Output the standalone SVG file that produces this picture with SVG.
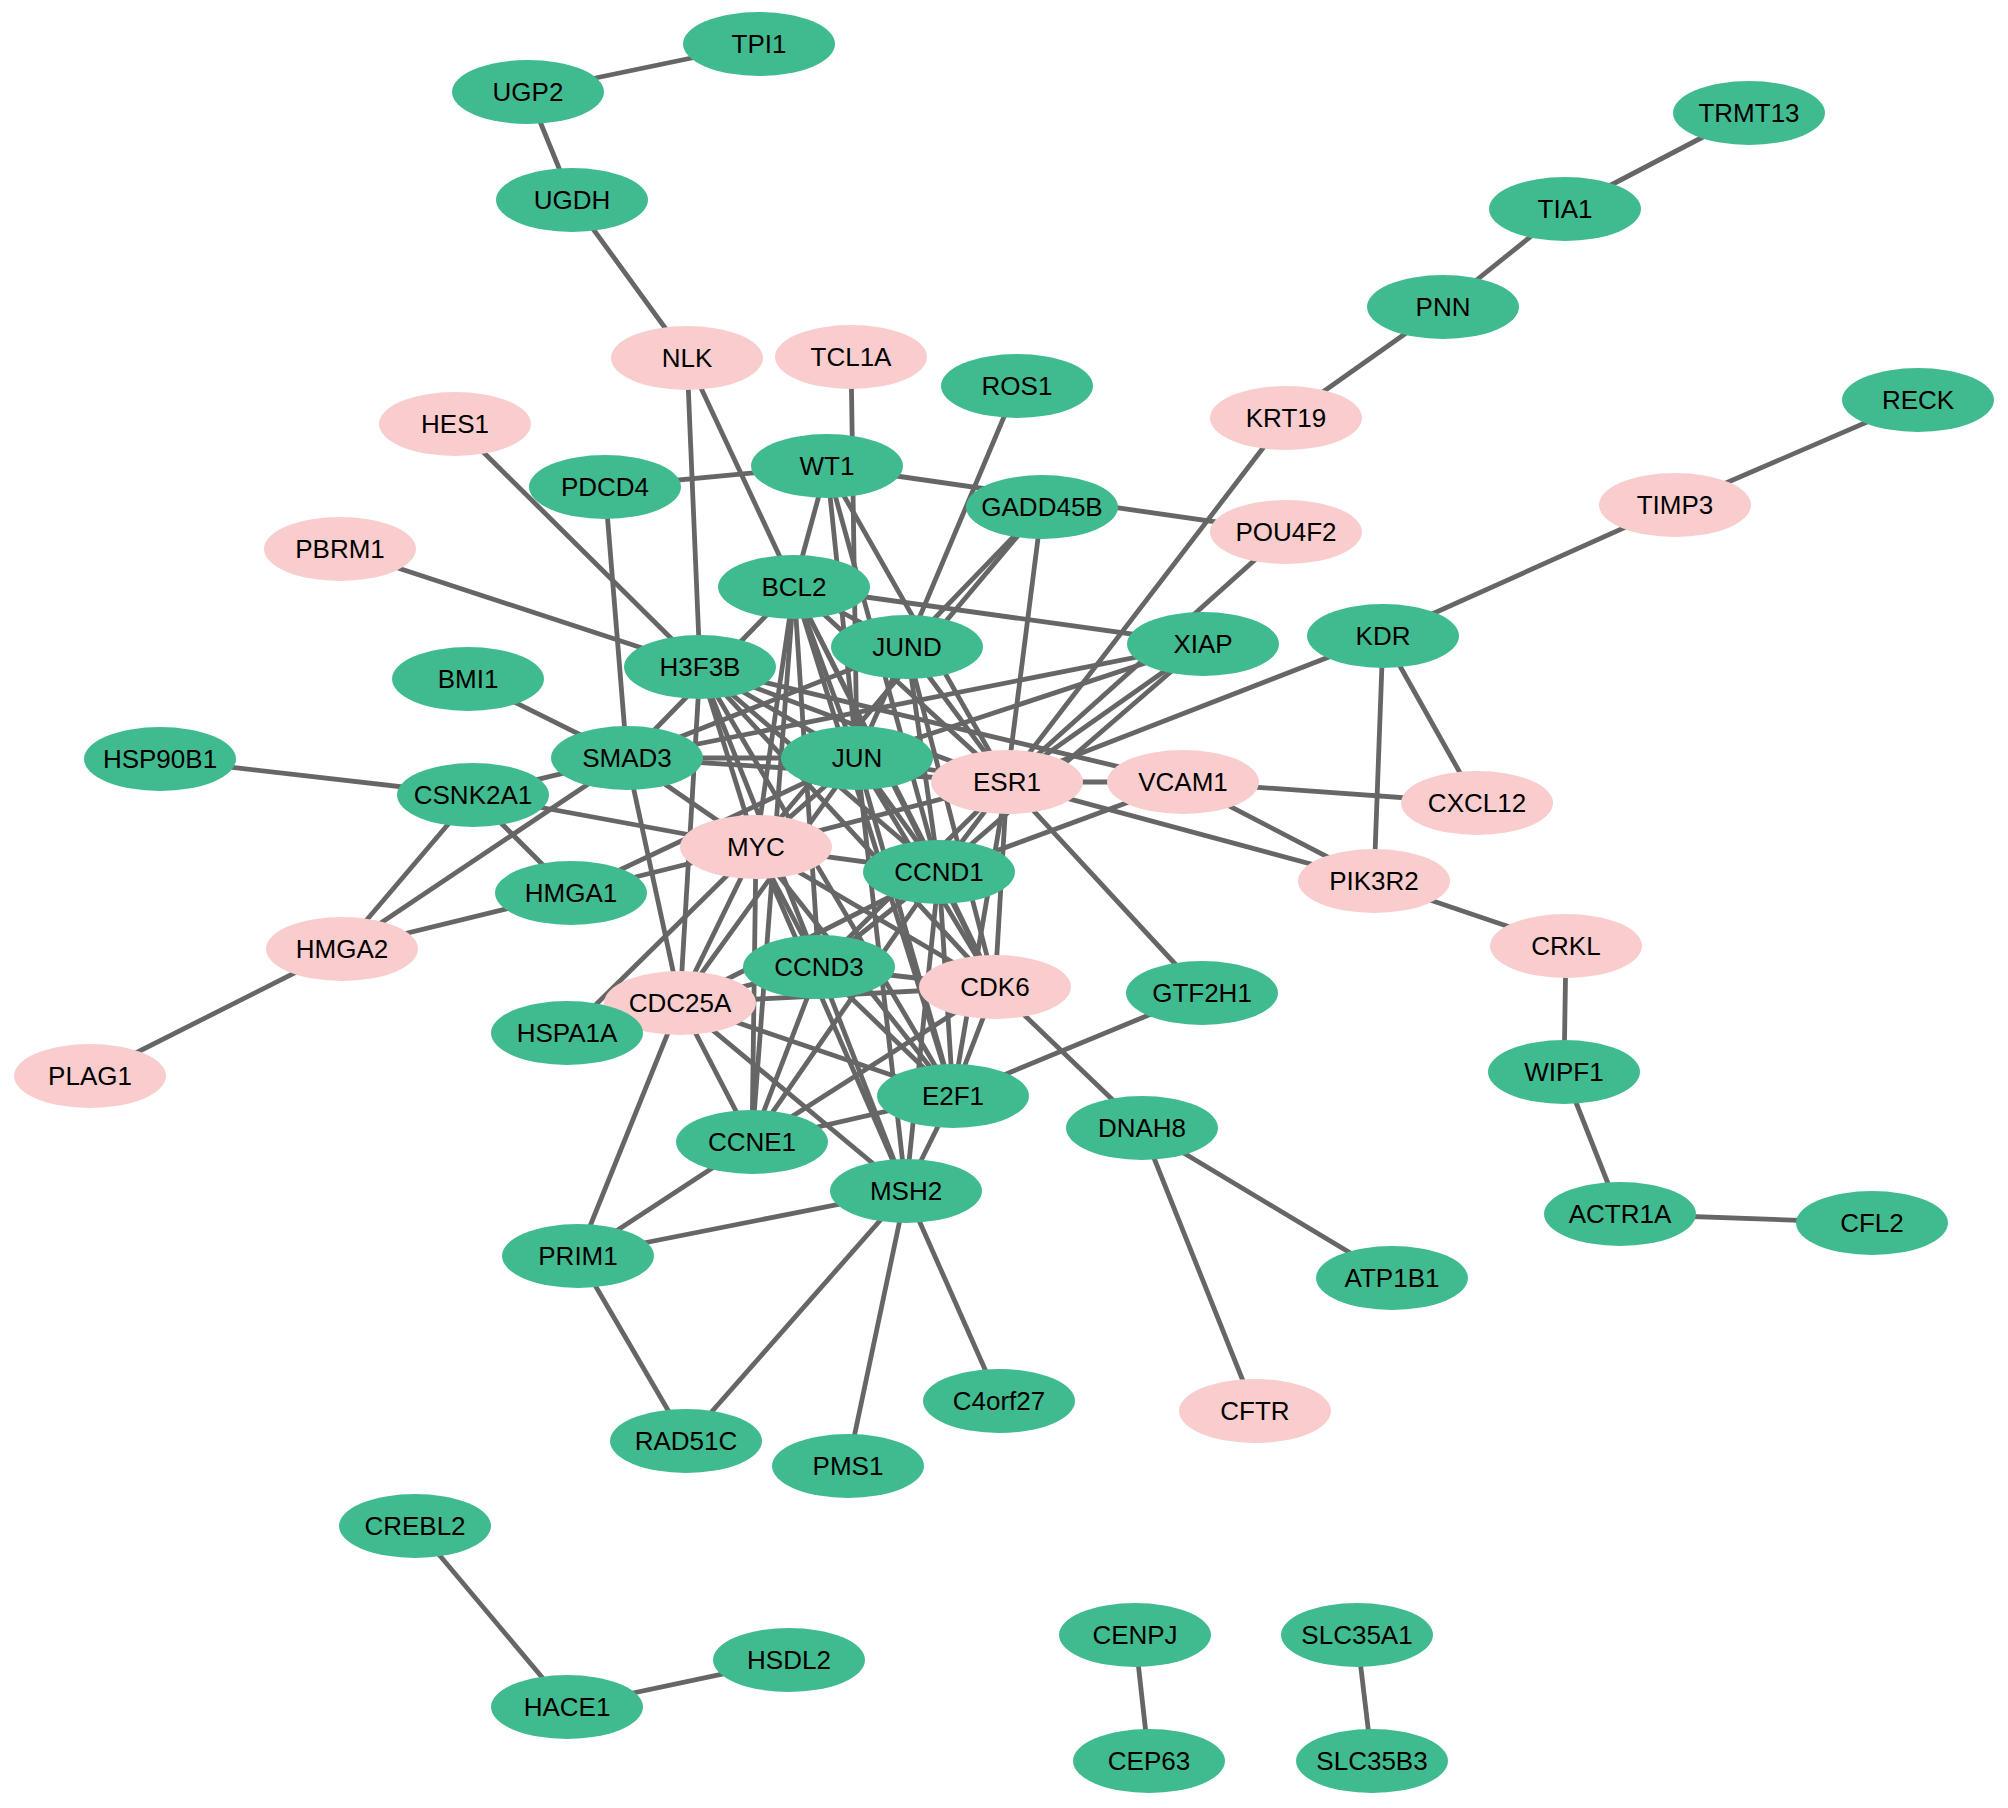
<svg xmlns="http://www.w3.org/2000/svg" width="2008" height="1808" viewBox="0 0 2008 1808">
<style>
.e{stroke:#666666;stroke-width:4.8;fill:none}
.g{fill:#40BB8F}
.p{fill:#F9CDCD}
text{font-family:"Liberation Sans",Arial,sans-serif;font-size:26px;fill:#000;text-anchor:middle}
</style>
<rect width="2008" height="1808" fill="#ffffff"/>
<g id="edges">
<line class="e" x1="759" y1="44" x2="528" y2="92"/>
<line class="e" x1="528" y1="92" x2="572" y2="200"/>
<line class="e" x1="572" y1="200" x2="687" y2="358"/>
<line class="e" x1="1749" y1="113" x2="1565" y2="209"/>
<line class="e" x1="1565" y1="209" x2="1443" y2="307"/>
<line class="e" x1="1443" y1="307" x2="1286" y2="418"/>
<line class="e" x1="1286" y1="418" x2="1007" y2="782"/>
<line class="e" x1="1918" y1="400" x2="1675" y2="505"/>
<line class="e" x1="1675" y1="505" x2="1383" y2="636"/>
<line class="e" x1="455" y1="424" x2="700" y2="667"/>
<line class="e" x1="340" y1="549" x2="700" y2="667"/>
<line class="e" x1="468" y1="679" x2="627" y2="758"/>
<line class="e" x1="160" y1="759" x2="473" y2="795"/>
<line class="e" x1="342" y1="949" x2="90" y2="1076"/>
<line class="e" x1="1566" y1="946" x2="1374" y2="881"/>
<line class="e" x1="1566" y1="946" x2="1564" y2="1072"/>
<line class="e" x1="1564" y1="1072" x2="1620" y2="1214"/>
<line class="e" x1="1620" y1="1214" x2="1872" y2="1223"/>
<line class="e" x1="1142" y1="1128" x2="1392" y2="1278"/>
<line class="e" x1="1142" y1="1128" x2="1255" y2="1411"/>
<line class="e" x1="995" y1="987" x2="1142" y2="1128"/>
<line class="e" x1="1202" y1="993" x2="1007" y2="782"/>
<line class="e" x1="1202" y1="993" x2="953" y2="1096"/>
<line class="e" x1="906" y1="1191" x2="999" y2="1401"/>
<line class="e" x1="906" y1="1191" x2="848" y2="1466"/>
<line class="e" x1="906" y1="1191" x2="686" y2="1441"/>
<line class="e" x1="578" y1="1256" x2="686" y2="1441"/>
<line class="e" x1="578" y1="1256" x2="906" y2="1191"/>
<line class="e" x1="578" y1="1256" x2="752" y2="1142"/>
<line class="e" x1="578" y1="1256" x2="680" y2="1003"/>
<line class="e" x1="415" y1="1526" x2="567" y2="1707"/>
<line class="e" x1="567" y1="1707" x2="789" y2="1660"/>
<line class="e" x1="1135" y1="1635" x2="1149" y2="1761"/>
<line class="e" x1="1357" y1="1635" x2="1372" y2="1761"/>
<line class="e" x1="1383" y1="636" x2="1477" y2="803"/>
<line class="e" x1="1383" y1="636" x2="1374" y2="881"/>
<line class="e" x1="1383" y1="636" x2="1007" y2="782"/>
<line class="e" x1="1183" y1="782" x2="1477" y2="803"/>
<line class="e" x1="1183" y1="782" x2="1374" y2="881"/>
<line class="e" x1="1007" y1="782" x2="1374" y2="881"/>
<line class="e" x1="1007" y1="782" x2="1183" y2="782"/>
<line class="e" x1="1183" y1="782" x2="939" y2="872"/>
<line class="e" x1="1286" y1="532" x2="1007" y2="782"/>
<line class="e" x1="827" y1="466" x2="1286" y2="532"/>
<line class="e" x1="827" y1="466" x2="605" y2="487"/>
<line class="e" x1="851" y1="357" x2="857" y2="758"/>
<line class="e" x1="687" y1="358" x2="700" y2="667"/>
<line class="e" x1="687" y1="358" x2="794" y2="587"/>
<line class="e" x1="1017" y1="386" x2="907" y2="647"/>
<line class="e" x1="605" y1="487" x2="627" y2="758"/>
<line class="e" x1="473" y1="795" x2="627" y2="758"/>
<line class="e" x1="473" y1="795" x2="571" y2="893"/>
<line class="e" x1="473" y1="795" x2="342" y2="949"/>
<line class="e" x1="473" y1="795" x2="756" y2="847"/>
<line class="e" x1="627" y1="758" x2="342" y2="949"/>
<line class="e" x1="571" y1="893" x2="342" y2="949"/>
<line class="e" x1="571" y1="893" x2="756" y2="847"/>
<line class="e" x1="571" y1="893" x2="857" y2="758"/>
<line class="e" x1="567" y1="1033" x2="756" y2="847"/>
<line class="e" x1="857" y1="758" x2="627" y2="758"/>
<line class="e" x1="627" y1="758" x2="1007" y2="782"/>
<line class="e" x1="857" y1="758" x2="1007" y2="782"/>
<line class="e" x1="857" y1="758" x2="756" y2="847"/>
<line class="e" x1="857" y1="758" x2="939" y2="872"/>
<line class="e" x1="857" y1="758" x2="794" y2="587"/>
<line class="e" x1="857" y1="758" x2="907" y2="647"/>
<line class="e" x1="857" y1="758" x2="1203" y2="644"/>
<line class="e" x1="857" y1="758" x2="700" y2="667"/>
<line class="e" x1="857" y1="758" x2="827" y2="466"/>
<line class="e" x1="857" y1="758" x2="995" y2="987"/>
<line class="e" x1="857" y1="758" x2="953" y2="1096"/>
<line class="e" x1="857" y1="758" x2="906" y2="1191"/>
<line class="e" x1="857" y1="758" x2="680" y2="1003"/>
<line class="e" x1="756" y1="847" x2="1007" y2="782"/>
<line class="e" x1="756" y1="847" x2="939" y2="872"/>
<line class="e" x1="756" y1="847" x2="819" y2="967"/>
<line class="e" x1="756" y1="847" x2="995" y2="987"/>
<line class="e" x1="756" y1="847" x2="953" y2="1096"/>
<line class="e" x1="756" y1="847" x2="752" y2="1142"/>
<line class="e" x1="756" y1="847" x2="680" y2="1003"/>
<line class="e" x1="756" y1="847" x2="794" y2="587"/>
<line class="e" x1="756" y1="847" x2="700" y2="667"/>
<line class="e" x1="756" y1="847" x2="627" y2="758"/>
<line class="e" x1="756" y1="847" x2="906" y2="1191"/>
<line class="e" x1="756" y1="847" x2="1042" y2="507"/>
<line class="e" x1="1007" y1="782" x2="939" y2="872"/>
<line class="e" x1="1007" y1="782" x2="995" y2="987"/>
<line class="e" x1="1007" y1="782" x2="953" y2="1096"/>
<line class="e" x1="1007" y1="782" x2="794" y2="587"/>
<line class="e" x1="1007" y1="782" x2="907" y2="647"/>
<line class="e" x1="1007" y1="782" x2="827" y2="466"/>
<line class="e" x1="1007" y1="782" x2="700" y2="667"/>
<line class="e" x1="1007" y1="782" x2="1042" y2="507"/>
<line class="e" x1="1007" y1="782" x2="1203" y2="644"/>
<line class="e" x1="1007" y1="782" x2="819" y2="967"/>
<line class="e" x1="939" y1="872" x2="819" y2="967"/>
<line class="e" x1="939" y1="872" x2="995" y2="987"/>
<line class="e" x1="939" y1="872" x2="953" y2="1096"/>
<line class="e" x1="939" y1="872" x2="752" y2="1142"/>
<line class="e" x1="939" y1="872" x2="680" y2="1003"/>
<line class="e" x1="939" y1="872" x2="794" y2="587"/>
<line class="e" x1="939" y1="872" x2="907" y2="647"/>
<line class="e" x1="939" y1="872" x2="700" y2="667"/>
<line class="e" x1="939" y1="872" x2="827" y2="466"/>
<line class="e" x1="939" y1="872" x2="906" y2="1191"/>
<line class="e" x1="939" y1="872" x2="1203" y2="644"/>
<line class="e" x1="819" y1="967" x2="995" y2="987"/>
<line class="e" x1="819" y1="967" x2="680" y2="1003"/>
<line class="e" x1="819" y1="967" x2="752" y2="1142"/>
<line class="e" x1="819" y1="967" x2="953" y2="1096"/>
<line class="e" x1="819" y1="967" x2="906" y2="1191"/>
<line class="e" x1="819" y1="967" x2="700" y2="667"/>
<line class="e" x1="819" y1="967" x2="794" y2="587"/>
<line class="e" x1="995" y1="987" x2="680" y2="1003"/>
<line class="e" x1="995" y1="987" x2="752" y2="1142"/>
<line class="e" x1="995" y1="987" x2="953" y2="1096"/>
<line class="e" x1="995" y1="987" x2="794" y2="587"/>
<line class="e" x1="995" y1="987" x2="700" y2="667"/>
<line class="e" x1="995" y1="987" x2="907" y2="647"/>
<line class="e" x1="953" y1="1096" x2="752" y2="1142"/>
<line class="e" x1="953" y1="1096" x2="680" y2="1003"/>
<line class="e" x1="953" y1="1096" x2="906" y2="1191"/>
<line class="e" x1="953" y1="1096" x2="794" y2="587"/>
<line class="e" x1="953" y1="1096" x2="700" y2="667"/>
<line class="e" x1="752" y1="1142" x2="680" y2="1003"/>
<line class="e" x1="752" y1="1142" x2="794" y2="587"/>
<line class="e" x1="680" y1="1003" x2="906" y2="1191"/>
<line class="e" x1="680" y1="1003" x2="627" y2="758"/>
<line class="e" x1="680" y1="1003" x2="700" y2="667"/>
<line class="e" x1="794" y1="587" x2="1203" y2="644"/>
<line class="e" x1="794" y1="587" x2="827" y2="466"/>
<line class="e" x1="794" y1="587" x2="627" y2="758"/>
<line class="e" x1="794" y1="587" x2="907" y2="647"/>
<line class="e" x1="700" y1="667" x2="1183" y2="782"/>
<line class="e" x1="1042" y1="507" x2="907" y2="647"/>
<line class="e" x1="1203" y1="644" x2="627" y2="758"/>
<line class="e" x1="627" y1="758" x2="907" y2="647"/>
</g>
<g id="n-TPI1"><ellipse class="g" cx="759" cy="44" rx="76" ry="32"/><text x="759" y="53">TPI1</text></g>
<g id="n-UGP2"><ellipse class="g" cx="528" cy="92" rx="76" ry="32"/><text x="528" y="101">UGP2</text></g>
<g id="n-UGDH"><ellipse class="g" cx="572" cy="200" rx="76" ry="32"/><text x="572" y="209">UGDH</text></g>
<g id="n-TRMT13"><ellipse class="g" cx="1749" cy="113" rx="76" ry="32"/><text x="1749" y="122">TRMT13</text></g>
<g id="n-TIA1"><ellipse class="g" cx="1565" cy="209" rx="76" ry="32"/><text x="1565" y="218">TIA1</text></g>
<g id="n-PNN"><ellipse class="g" cx="1443" cy="307" rx="76" ry="32"/><text x="1443" y="316">PNN</text></g>
<g id="n-NLK"><ellipse class="p" cx="687" cy="358" rx="76" ry="32"/><text x="687" y="367">NLK</text></g>
<g id="n-TCL1A"><ellipse class="p" cx="851" cy="357" rx="76" ry="32"/><text x="851" y="366">TCL1A</text></g>
<g id="n-ROS1"><ellipse class="g" cx="1017" cy="386" rx="76" ry="32"/><text x="1017" y="395">ROS1</text></g>
<g id="n-KRT19"><ellipse class="p" cx="1286" cy="418" rx="76" ry="32"/><text x="1286" y="427">KRT19</text></g>
<g id="n-RECK"><ellipse class="g" cx="1918" cy="400" rx="76" ry="32"/><text x="1918" y="409">RECK</text></g>
<g id="n-HES1"><ellipse class="p" cx="455" cy="424" rx="76" ry="32"/><text x="455" y="433">HES1</text></g>
<g id="n-PDCD4"><ellipse class="g" cx="605" cy="487" rx="76" ry="32"/><text x="605" y="496">PDCD4</text></g>
<g id="n-WT1"><ellipse class="g" cx="827" cy="466" rx="76" ry="32"/><text x="827" y="475">WT1</text></g>
<g id="n-GADD45B"><ellipse class="g" cx="1042" cy="507" rx="76" ry="32"/><text x="1042" y="516">GADD45B</text></g>
<g id="n-POU4F2"><ellipse class="p" cx="1286" cy="532" rx="76" ry="32"/><text x="1286" y="541">POU4F2</text></g>
<g id="n-TIMP3"><ellipse class="p" cx="1675" cy="505" rx="76" ry="32"/><text x="1675" y="514">TIMP3</text></g>
<g id="n-PBRM1"><ellipse class="p" cx="340" cy="549" rx="76" ry="32"/><text x="340" y="558">PBRM1</text></g>
<g id="n-BCL2"><ellipse class="g" cx="794" cy="587" rx="76" ry="32"/><text x="794" y="596">BCL2</text></g>
<g id="n-JUND"><ellipse class="g" cx="907" cy="647" rx="76" ry="32"/><text x="907" y="656">JUND</text></g>
<g id="n-XIAP"><ellipse class="g" cx="1203" cy="644" rx="76" ry="32"/><text x="1203" y="653">XIAP</text></g>
<g id="n-KDR"><ellipse class="g" cx="1383" cy="636" rx="76" ry="32"/><text x="1383" y="645">KDR</text></g>
<g id="n-H3F3B"><ellipse class="g" cx="700" cy="667" rx="76" ry="32"/><text x="700" y="676">H3F3B</text></g>
<g id="n-BMI1"><ellipse class="g" cx="468" cy="679" rx="76" ry="32"/><text x="468" y="688">BMI1</text></g>
<g id="n-SMAD3"><ellipse class="g" cx="627" cy="758" rx="76" ry="32"/><text x="627" y="767">SMAD3</text></g>
<g id="n-JUN"><ellipse class="g" cx="857" cy="758" rx="76" ry="32"/><text x="857" y="767">JUN</text></g>
<g id="n-HSP90B1"><ellipse class="g" cx="160" cy="759" rx="76" ry="32"/><text x="160" y="768">HSP90B1</text></g>
<g id="n-CSNK2A1"><ellipse class="g" cx="473" cy="795" rx="76" ry="32"/><text x="473" y="804">CSNK2A1</text></g>
<g id="n-ESR1"><ellipse class="p" cx="1007" cy="782" rx="76" ry="32"/><text x="1007" y="791">ESR1</text></g>
<g id="n-VCAM1"><ellipse class="p" cx="1183" cy="782" rx="76" ry="32"/><text x="1183" y="791">VCAM1</text></g>
<g id="n-CXCL12"><ellipse class="p" cx="1477" cy="803" rx="76" ry="32"/><text x="1477" y="812">CXCL12</text></g>
<g id="n-MYC"><ellipse class="p" cx="756" cy="847" rx="76" ry="32"/><text x="756" y="856">MYC</text></g>
<g id="n-HMGA1"><ellipse class="g" cx="571" cy="893" rx="76" ry="32"/><text x="571" y="902">HMGA1</text></g>
<g id="n-CCND1"><ellipse class="g" cx="939" cy="872" rx="76" ry="32"/><text x="939" y="881">CCND1</text></g>
<g id="n-PIK3R2"><ellipse class="p" cx="1374" cy="881" rx="76" ry="32"/><text x="1374" y="890">PIK3R2</text></g>
<g id="n-HMGA2"><ellipse class="p" cx="342" cy="949" rx="76" ry="32"/><text x="342" y="958">HMGA2</text></g>
<g id="n-CRKL"><ellipse class="p" cx="1566" cy="946" rx="76" ry="32"/><text x="1566" y="955">CRKL</text></g>
<g id="n-CCND3"><ellipse class="g" cx="819" cy="967" rx="76" ry="32"/><text x="819" y="976">CCND3</text></g>
<g id="n-CDK6"><ellipse class="p" cx="995" cy="987" rx="76" ry="32"/><text x="995" y="996">CDK6</text></g>
<g id="n-GTF2H1"><ellipse class="g" cx="1202" cy="993" rx="76" ry="32"/><text x="1202" y="1002">GTF2H1</text></g>
<g id="n-CDC25A"><ellipse class="p" cx="680" cy="1003" rx="76" ry="32"/><text x="680" y="1012">CDC25A</text></g>
<g id="n-HSPA1A"><ellipse class="g" cx="567" cy="1033" rx="76" ry="32"/><text x="567" y="1042">HSPA1A</text></g>
<g id="n-PLAG1"><ellipse class="p" cx="90" cy="1076" rx="76" ry="32"/><text x="90" y="1085">PLAG1</text></g>
<g id="n-WIPF1"><ellipse class="g" cx="1564" cy="1072" rx="76" ry="32"/><text x="1564" y="1081">WIPF1</text></g>
<g id="n-E2F1"><ellipse class="g" cx="953" cy="1096" rx="76" ry="32"/><text x="953" y="1105">E2F1</text></g>
<g id="n-DNAH8"><ellipse class="g" cx="1142" cy="1128" rx="76" ry="32"/><text x="1142" y="1137">DNAH8</text></g>
<g id="n-CCNE1"><ellipse class="g" cx="752" cy="1142" rx="76" ry="32"/><text x="752" y="1151">CCNE1</text></g>
<g id="n-MSH2"><ellipse class="g" cx="906" cy="1191" rx="76" ry="32"/><text x="906" y="1200">MSH2</text></g>
<g id="n-ACTR1A"><ellipse class="g" cx="1620" cy="1214" rx="76" ry="32"/><text x="1620" y="1223">ACTR1A</text></g>
<g id="n-CFL2"><ellipse class="g" cx="1872" cy="1223" rx="76" ry="32"/><text x="1872" y="1232">CFL2</text></g>
<g id="n-PRIM1"><ellipse class="g" cx="578" cy="1256" rx="76" ry="32"/><text x="578" y="1265">PRIM1</text></g>
<g id="n-ATP1B1"><ellipse class="g" cx="1392" cy="1278" rx="76" ry="32"/><text x="1392" y="1287">ATP1B1</text></g>
<g id="n-C4orf27"><ellipse class="g" cx="999" cy="1401" rx="76" ry="32"/><text x="999" y="1410">C4orf27</text></g>
<g id="n-CFTR"><ellipse class="p" cx="1255" cy="1411" rx="76" ry="32"/><text x="1255" y="1420">CFTR</text></g>
<g id="n-RAD51C"><ellipse class="g" cx="686" cy="1441" rx="76" ry="32"/><text x="686" y="1450">RAD51C</text></g>
<g id="n-PMS1"><ellipse class="g" cx="848" cy="1466" rx="76" ry="32"/><text x="848" y="1475">PMS1</text></g>
<g id="n-CREBL2"><ellipse class="g" cx="415" cy="1526" rx="76" ry="32"/><text x="415" y="1535">CREBL2</text></g>
<g id="n-HSDL2"><ellipse class="g" cx="789" cy="1660" rx="76" ry="32"/><text x="789" y="1669">HSDL2</text></g>
<g id="n-HACE1"><ellipse class="g" cx="567" cy="1707" rx="76" ry="32"/><text x="567" y="1716">HACE1</text></g>
<g id="n-CENPJ"><ellipse class="g" cx="1135" cy="1635" rx="76" ry="32"/><text x="1135" y="1644">CENPJ</text></g>
<g id="n-CEP63"><ellipse class="g" cx="1149" cy="1761" rx="76" ry="32"/><text x="1149" y="1770">CEP63</text></g>
<g id="n-SLC35A1"><ellipse class="g" cx="1357" cy="1635" rx="76" ry="32"/><text x="1357" y="1644">SLC35A1</text></g>
<g id="n-SLC35B3"><ellipse class="g" cx="1372" cy="1761" rx="76" ry="32"/><text x="1372" y="1770">SLC35B3</text></g>
</svg>
